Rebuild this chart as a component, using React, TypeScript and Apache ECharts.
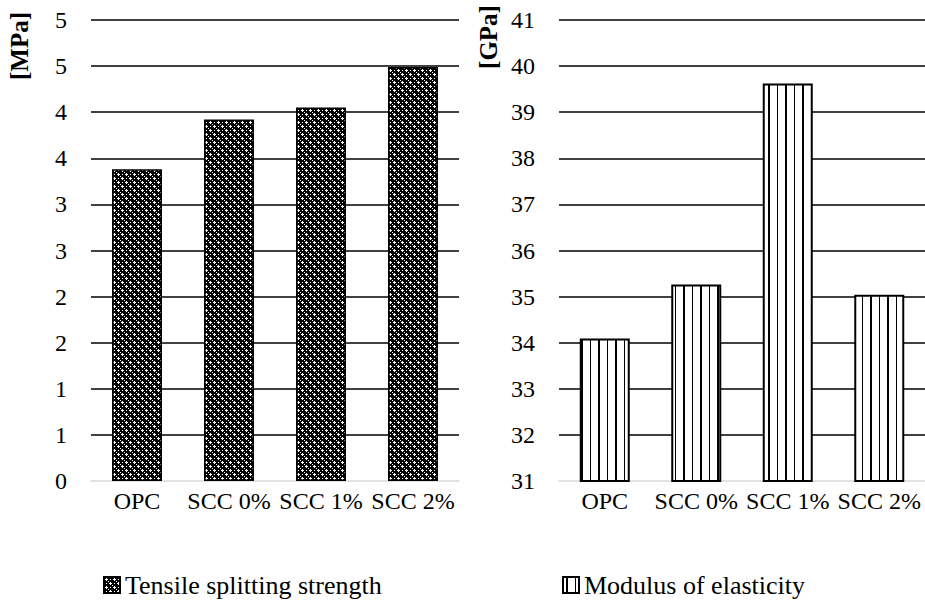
import React, { useEffect, useRef } from 'react';
import * as echarts from 'echarts';

const categories = ['OPC', 'SCC 0%', 'SCC 1%', 'SCC 2%'];
const tensileValues = [3.38, 3.92, 4.05, 4.49];
const modulusValues = [34.09, 35.26, 39.62, 35.04];
const leftTickLabels = ['0', '1', '1', '2', '2', '3', '3', '4', '4', '5', '5'];
const rightTickLabels = ['31', '32', '33', '34', '35', '36', '37', '38', '39', '40', '41'];
const seriesNames = ['Tensile splitting strength', 'Modulus of elasticity'];
const unitTitles = ['[MPa]', '[GPa]'];

const FONT = '"Liberation Serif", "Times New Roman", serif';

function makeDotPattern(): HTMLCanvasElement {
  const c = document.createElement('canvas');
  c.width = 8;
  c.height = 8;
  const ctx = c.getContext('2d')!;
  ctx.fillStyle = '#000';
  ctx.fillRect(0, 0, 8, 8);
  ctx.fillStyle = '#fff';
  const whites = [
    [2, 1], [1, 2], [2, 2], [3, 2], [2, 3],
    [6, 5], [5, 6], [6, 6], [7, 6], [6, 7],
    [6, 2], [2, 6], [0, 0], [4, 4],
  ];
  whites.forEach(([x, y]) => ctx.fillRect(x, y, 1, 1));
  return c;
}

function makeStripePattern(): HTMLCanvasElement {
  const c = document.createElement('canvas');
  c.width = 17;
  c.height = 4;
  const ctx = c.getContext('2d')!;
  ctx.fillStyle = '#fff';
  ctx.fillRect(0, 0, 17, 4);
  ctx.fillStyle = '#000';
  ctx.fillRect(3, 0, 2, 4);
  ctx.fillRect(12, 0, 1, 4);
  return c;
}

export default function App() {
  const ref = useRef<HTMLDivElement>(null);

  useEffect(() => {
    if (!ref.current) return;
    const chart = echarts.init(ref.current, null, { renderer: 'svg' });

    const dotPattern: any = { image: makeDotPattern(), repeat: 'repeat', imageWidth: 8, imageHeight: 8 };
    const stripePattern: any = { image: makeStripePattern(), repeat: 'repeat', imageWidth: 17, imageHeight: 4 };

    const xAxisBase = (i: number) => ({
      type: 'category',
      gridIndex: i,
      data: categories,
      axisLine: { lineStyle: { color: '#d9d9d9', width: 1.5 } },
      axisTick: { show: false },
      axisLabel: { color: '#000', fontSize: 24, fontFamily: FONT, margin: 8, interval: 0 },
    });

    const option: any = {
      animation: false,
      backgroundColor: '#fff',
      textStyle: { fontFamily: FONT },
      grid: [
        { left: 91, top: 20, width: 368, height: 461 },
        { left: 559, top: 20, width: 366, height: 461 },
      ],
      xAxis: [xAxisBase(0), xAxisBase(1)],
      yAxis: [
        {
          type: 'value',
          gridIndex: 0,
          min: 0,
          max: 5,
          interval: 0.5,
          axisLine: { show: false },
          axisTick: { show: false },
          axisLabel: {
            color: '#000',
            fontSize: 24,
            fontFamily: FONT,
            margin: 24,
            formatter: (v: number) => leftTickLabels[Math.round(v / 0.5)] ?? '',
          },
          splitLine: { show: true, showMinLine: false, lineStyle: { color: '#000', width: 1.5 } },
        },
        {
          type: 'value',
          gridIndex: 1,
          min: 31,
          max: 41,
          interval: 1,
          axisLine: { show: false },
          axisTick: { show: false },
          axisLabel: {
            color: '#000',
            fontSize: 24,
            fontFamily: FONT,
            margin: 24,
            formatter: (v: number) => rightTickLabels[Math.round(v - 31)] ?? '',
          },
          splitLine: { show: true, showMinLine: false, lineStyle: { color: '#000', width: 1.5 } },
        },
      ],
      legend: [
        {
          data: [seriesNames[0]],
          left: 103,
          top: 572,
          padding: 0,
          icon: 'rect',
          itemWidth: 16,
          itemHeight: 16,
          textStyle: { color: '#000', fontSize: 26, fontFamily: FONT },
        },
        {
          data: [seriesNames[1]],
          left: 562,
          top: 572,
          padding: 0,
          icon: 'rect',
          itemWidth: 16,
          itemHeight: 16,
          textStyle: { color: '#000', fontSize: 26, fontFamily: FONT },
        },
      ],
      graphic: [
        {
          type: 'text',
          x: 19,
          y: 46,
          rotation: Math.PI / 2,
          style: {
            text: unitTitles[0],
            font: 'bold 25px "Liberation Serif"',
            fill: '#000',
            align: 'center',
            verticalAlign: 'middle',
            textAlign: 'center',
            textVerticalAlign: 'middle',
          },
        },
        {
          type: 'text',
          x: 488,
          y: 37,
          rotation: Math.PI / 2,
          style: {
            text: unitTitles[1],
            font: 'bold 25px "Liberation Serif"',
            fill: '#000',
            align: 'center',
            verticalAlign: 'middle',
            textAlign: 'center',
            textVerticalAlign: 'middle',
          },
        },
      ],
      series: [
        {
          type: 'bar',
          name: seriesNames[0],
          xAxisIndex: 0,
          yAxisIndex: 0,
          data: tensileValues,
          barWidth: 50,
          itemStyle: { color: dotPattern, borderColor: '#000', borderWidth: 1.5 },
        },
        {
          type: 'bar',
          name: seriesNames[1],
          xAxisIndex: 1,
          yAxisIndex: 1,
          data: modulusValues,
          barWidth: 50,
          itemStyle: { color: stripePattern, borderColor: '#000', borderWidth: 2 },
        },
      ],
    };

    chart.setOption(option);
    return () => chart.dispose();
  }, []);

  return (
    <div
      ref={ref}
      style={{ position: 'fixed', left: 0, top: 0, width: 925, height: 602, background: '#fff' }}
    />
  );
}
